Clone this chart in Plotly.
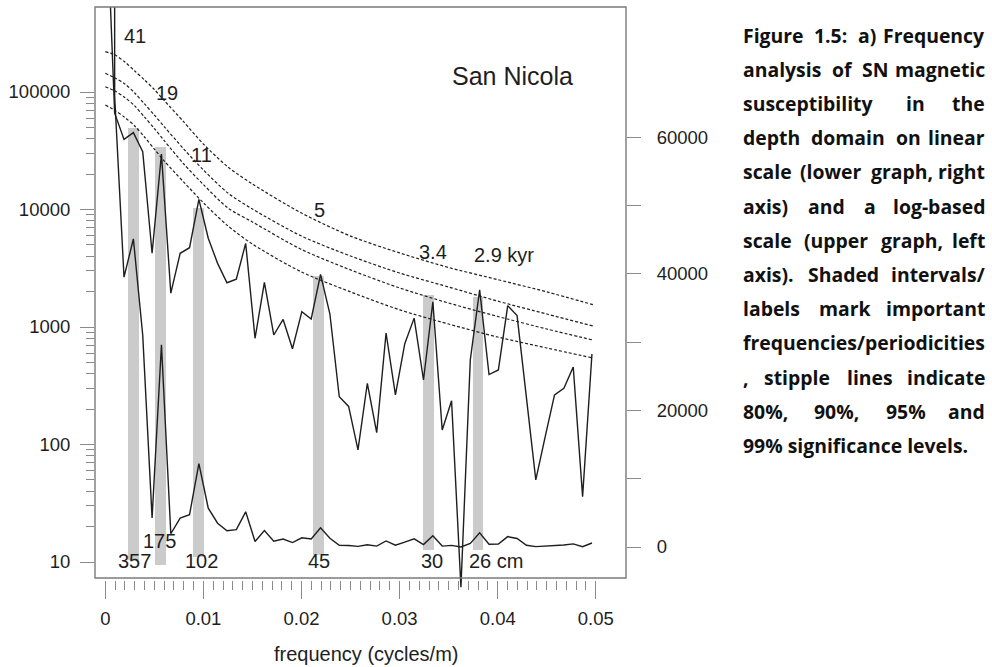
import plotly.graph_objects as go

# ---------------- data ----------------
freq = [0.0, 0.000954, 0.001908, 0.002862, 0.003816, 0.00477, 0.005724, 0.006678,
        0.007632, 0.008586, 0.00954, 0.010494, 0.011448, 0.012402, 0.013356, 0.01431,
        0.015264, 0.016218, 0.017172, 0.018126, 0.01908, 0.020034, 0.020988, 0.021942,
        0.022896, 0.02385, 0.024804, 0.025758, 0.026712, 0.027666, 0.02862, 0.029574,
        0.030528, 0.031482, 0.032436, 0.03339, 0.034344, 0.035298, 0.036252, 0.037206,
        0.03816, 0.039114, 0.040068, 0.041022, 0.041976, 0.04293, 0.043884, 0.044838,
        0.045792, 0.046746, 0.0477, 0.048654, 0.049608]
power = [7000000, 66000, 39500, 45100, 31000, 4240, 29600, 1940, 4240, 4730,
         12200, 5690, 3480, 2380, 2550, 5150, 802, 2400, 855, 1160,
         653, 1350, 1170, 2800, 1290, 255, 211, 90, 332, 126,
         889, 264, 721, 1190, 354, 1640, 133, 236, 6.1, 524,
         2070, 394, 431, 1520, 1250, 254, 50, 116, 264, 301,
         457, 36, 589]

sig_freq = [0.0, 0.001, 0.002, 0.003, 0.004, 0.005, 0.006, 0.008, 0.010, 0.0125,
            0.015, 0.02, 0.025, 0.03, 0.035, 0.04, 0.045, 0.0497]
sig99 = [220300, 206500, 179900, 151000, 126500, 105000, 84700, 55600, 36060, 23010,
         16480, 9330, 5940, 4270, 3210, 2530, 1990, 1550]
sig95 = [144200, 131500, 117000, 98000, 79100, 63700, 50800, 32700, 21700, 13800,
         10090, 5940, 4020, 2880, 2190, 1660, 1290, 1020]
sig90 = [110900, 102000, 89800, 76100, 61200, 48900, 38600, 24400, 16300, 10300,
         7830, 4570, 3060, 2150, 1600, 1230, 961, 775]
sig80 = [77400, 69600, 60700, 51400, 41400, 32700, 25900, 17100, 11400, 7250,
         5080, 2940, 1990, 1400, 1060, 822, 663, 545]

band_lo = [0.00234, 0.00506, 0.0089, 0.02118, 0.03238, 0.03747]
band_hi = [0.00346, 0.00615, 0.01005, 0.02227, 0.03347, 0.03855]
band_top = [49100, 34200, 10300, 2720, 1870, 1810]
band_bottom = [10.4, 9.4, 11.0, 11.5, 12.7, 12.7]

period_cm = ["357", "175", "102", "45", "30", "26 cm"]
period_kyr = ["41", "19", "11", "5", "3.4", "2.9 kyr"]

x_ticks = [0, 0.01, 0.02, 0.03, 0.04, 0.05]
x_ticktext = ["0", "0.01", "0.02", "0.03", "0.04", "0.05"]
yl_ticks = [10, 100, 1000, 10000, 100000]
yl_ticktext = ["10", "100", "1000", "10000", "100000"]
yr_ticks = [0, 10000, 20000, 30000, 40000, 50000, 60000]
yr_ticktext = ["0", "", "20000", "", "40000", "", "60000"]

caption_lines = [
    "Figure 1.5: a) Frequency",
    "analysis of SN magnetic",
    "susceptibility in the",
    "depth domain on linear",
    "scale (lower graph, right",
    "axis) and a log-based",
    "scale (upper graph, left",
    "axis). Shaded intervals/",
    "labels mark important",
    "frequencies/periodicities",
    ", stipple lines indicate",
    "80%, 90%, 95% and",
    "99% significance levels.",
]

# ---------------- geometry helpers (layout only) ----------------
W, H = 992, 667
L, R, T, B = 95, 626, 7, 592
FRAME_BOTTOM = 578


def px(x):
    return (x - L) / (R - L)


def py(y):
    return (B - y) / (B - T)


FONT = "Liberation Sans, Arial, sans-serif"
INK = "#1e1e1e"
GRID = "#8a8a8a"

fig = go.Figure()

# shaded intervals
fig.add_trace(go.Bar(
    x=[(a + b) / 2 for a, b in zip(band_lo, band_hi)],
    width=[b - a for a, b in zip(band_lo, band_hi)],
    base=band_bottom,
    y=[t - b for t, b in zip(band_top, band_bottom)],
    marker=dict(color="#cbcbcb", line=dict(width=0)),
    yaxis="y", showlegend=False, hoverinfo="skip"))

for s in [sig99, sig95, sig90, sig80]:
    fig.add_trace(go.Scatter(
        x=sig_freq, y=s, mode="lines", yaxis="y",
        line=dict(color="#202020", width=1.2, dash="3px,2px", shape="spline", smoothing=0.8),
        showlegend=False, hoverinfo="skip"))

fig.add_trace(go.Scatter(x=freq, y=power, mode="lines", yaxis="y",
                         line=dict(color=INK, width=1.4), showlegend=False))
fig.add_trace(go.Scatter(x=freq, y=power, mode="lines", yaxis="y2",
                         line=dict(color=INK, width=1.4), showlegend=False))

minor_x = [i / 1000 for i in range(1, 50) if i % 10 != 0]
minor_y = [m * 10 ** e for e in range(1, 5) for m in range(2, 10)]

tickfont = dict(family=FONT, size=18.5, color=INK)

fig.update_layout(
    width=W, height=H,
    margin=dict(l=L, r=W - R, t=T, b=H - B, pad=0),
    paper_bgcolor="white", plot_bgcolor="white",
    barmode="overlay", bargap=0,
    showlegend=False,
    xaxis=dict(
        range=[(L - 105.3) / 9810, (R - 105.3) / 9810],
        anchor="free", position=py(579.5),
        tickmode="array", tickvals=x_ticks, ticktext=x_ticktext,
        ticks="outside", ticklen=18, tickwidth=1.3, tickcolor=GRID,
        tickfont=tickfont, ticklabelstandoff=4,
        showgrid=False, zeroline=False, showline=False,
        minor=dict(tickmode="array", tickvals=minor_x, ticks="outside",
                   ticklen=9, tickwidth=1.2, tickcolor=GRID, showgrid=False),
    ),
    yaxis=dict(
        type="log", range=[5 - (B - 92) / 117.5, 5 + (92 - T) / 117.5],
        tickmode="array", tickvals=yl_ticks, ticktext=yl_ticktext,
        ticks="outside", ticklen=14, tickwidth=1.3, tickcolor=GRID,
        tickfont=tickfont, ticklabelstandoff=6,
        showgrid=False, zeroline=False, showline=False,
        minor=dict(tickmode="array", tickvals=minor_y, ticks="outside",
                   ticklen=8, tickwidth=1.2, tickcolor=GRID, showgrid=False),
    ),
    yaxis2=dict(
        overlaying="y", side="right", anchor="x",
        range=[(547 - B) * 146.4, (547 - T) * 146.4],
        tickmode="array", tickvals=yr_ticks, ticktext=yr_ticktext,
        ticks="outside", ticklen=14, tickwidth=1.3, tickcolor=GRID,
        tickfont=tickfont, ticklabelstandoff=12,
        showgrid=False, zeroline=False, showline=False,
    ),
)

# frame
fig.add_shape(type="rect", xref="paper", yref="paper",
              x0=0, x1=1, y0=py(FRAME_BOTTOM), y1=1,
              line=dict(color="#7a7a7a", width=1.4), layer="above")


def label(text, x, y, size=20, xanchor="center"):
    fig.add_annotation(text=text, x=px(x), y=py(y), xref="paper", yref="paper",
                       xanchor=xanchor, yanchor="middle", showarrow=False,
                       font=dict(family=FONT, size=size, color=INK))


cm_pos = [(134.5, 561), (159.5, 541), (201.7, 561), (318.5, 561), (431.7, 561), (467, 561)]
for t, (x, y) in zip(period_cm, cm_pos):
    label(t, x, y, xanchor="left" if t == "26 cm" else "center")

kyr_pos = [(134.5, 36), (166.7, 93), (201.5, 155), (319, 210), (433, 252), (504, 255)]
for t, (x, y) in zip(period_kyr, kyr_pos):
    label(t, x, y)

label("San Nicola", 512.5, 76, size=25)
label("frequency (cycles/m)", 366, 654, size=20)

# ---------------- caption, justified word by word ----------------
CAP_SIZE = 19.4
cap_font = dict(family="Open Sans, Noto Sans, sans-serif", size=CAP_SIZE, color="#111111")
CW = {  # approximate Open Sans Bold advance widths (em)
    'a': .60, 'b': .64, 'c': .51, 'd': .64, 'e': .60, 'f': .40, 'g': .57, 'h': .66,
    'i': .31, 'j': .31, 'k': .63, 'l': .31, 'm': .99, 'n': .66, 'o': .62, 'p': .64,
    'q': .64, 'r': .46, 's': .51, 't': .44, 'u': .66, 'v': .58, 'w': .87, 'x': .60,
    'y': .58, 'z': .50, 'F': .58, 'S': .56, 'N': .81, '.': .28, ':': .28, ',': .28,
    '(': .35, ')': .35, '/': .44, '%': .88, '-': .32, ' ': .26,
}


def text_w(s):
    return sum(CW.get(ch, .57) for ch in s) * CAP_SIZE


CAP_L, CAP_R = 740.5, 987
for i, line in enumerate(caption_lines):
    yrow = 35 + 34.2 * i
    words = line.split(" ")
    justify = (len(words) > 1) and (i != len(caption_lines) - 1)
    if not justify:
        fig.add_annotation(text="<b>%s</b>" % line, x=px(CAP_L), y=py(yrow),
                           xref="paper", yref="paper", xanchor="left", yanchor="middle",
                           showarrow=False, font=cap_font)
        continue
    widths = [text_w(w) for w in words]
    gap = (CAP_R - CAP_L - sum(widths)) / (len(words) - 1)
    xcur = CAP_L
    for j, (w, wd) in enumerate(zip(words, widths)):
        if j == len(words) - 1:
            fig.add_annotation(text="<b>%s</b>" % w, x=px(CAP_R), y=py(yrow),
                               xref="paper", yref="paper", xanchor="right", yanchor="middle",
                               showarrow=False, font=cap_font)
        else:
            fig.add_annotation(text="<b>%s</b>" % w, x=px(xcur), y=py(yrow),
                               xref="paper", yref="paper", xanchor="left", yanchor="middle",
                               showarrow=False, font=cap_font)
        xcur += wd + gap

fig.write_html("out.html")
